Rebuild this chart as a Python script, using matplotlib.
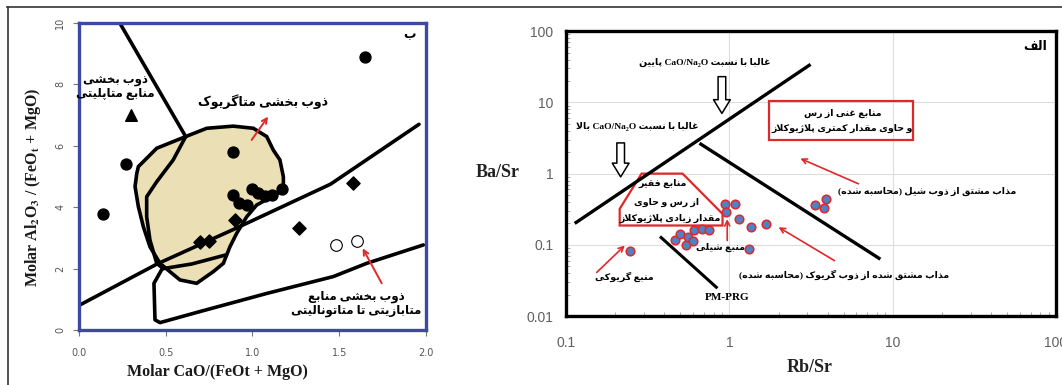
import matplotlib
matplotlib.use('Agg')
import matplotlib.pyplot as plt
from matplotlib.lines import Line2D
from matplotlib.patches import Polygon

plt.rcParams['mathtext.fontset'] = 'stix'

# ---------------- data, left panel (ب) ----------------
circ_x = [0.14, 0.27, 0.89, 1.65, 0.89, 0.92, 0.97, 1.00, 1.03, 1.07, 1.11, 1.17]
circ_y = [3.77, 5.40, 5.81, 8.90, 4.40, 4.15, 4.08, 4.60, 4.45, 4.38, 4.40, 4.60]
tri_x = [0.30]
tri_y = [7.0]
dia_x = [0.70, 0.75, 0.90, 1.27, 1.58]
dia_y = [2.88, 2.90, 3.58, 3.31, 4.78]
open_x = [1.48, 1.60]
open_y = [2.77, 2.91]

blob_x = [0.342, 0.448, 0.615, 0.736, 0.889, 1.005, 1.082, 1.12, 1.158, 1.178, 1.178, 1.11,
          1.024, 0.967, 0.909, 0.870, 0.832, 0.774, 0.678, 0.582, 0.524, 0.467, 0.409, 0.371,
          0.342, 0.323, 0.333]
blob_y = [5.32, 5.92, 6.30, 6.57, 6.64, 6.57, 6.30, 5.86, 5.54, 4.99, 4.56, 4.34,
          4.07, 3.69, 3.15, 2.71, 2.17, 1.90, 1.52, 1.63, 1.90, 2.17, 2.71, 3.36,
          4.02, 4.67, 5.10]
top_x = [0.235, 0.615]
top_y = [10.0, 6.30]
inner_x = [0.615, 0.543, 0.448, 0.39, 0.39, 0.409, 0.448, 0.486]
inner_y = [6.30, 5.54, 4.83, 4.34, 3.69, 2.93, 2.17, 2.0]
sep_x = [0.486, 0.65, 0.85]
sep_y = [2.0, 2.15, 2.45]
mid_x = [0.0, 0.45, 0.9, 1.45, 1.96]
mid_y = [0.8, 2.15, 3.3, 4.75, 6.7]
low_x = [0.486, 0.432, 0.438, 0.467, 0.697, 1.082, 1.466, 1.658, 1.985]
low_y = [2.06, 1.52, 0.33, 0.24, 0.60, 1.19, 1.74, 2.17, 2.77]

# ---------------- data, right panel (الف) ----------------
rs_x = [0.246, 0.462, 0.50, 0.54, 0.56, 0.60, 0.61, 0.675, 0.755, 0.935, 1.09, 0.95,
        1.14, 1.35, 1.67, 1.32, 3.32, 3.89, 3.78]
rs_y = [0.083, 0.117, 0.143, 0.098, 0.131, 0.112, 0.162, 0.167, 0.16, 0.38, 0.38, 0.286,
        0.233, 0.181, 0.198, 0.088, 0.359, 0.447, 0.333]
cao_x = [0.113, 3.14]
cao_y = [0.2, 34.2]
clay_x = [0.656, 8.4]
clay_y = [2.67, 0.063]
pm_x = [0.376, 0.845]
pm_y = [0.131, 0.0246]
box1_x = [1.75, 13.3, 13.3, 1.75]
box1_y = [10.6, 10.6, 2.97, 2.97]
box2_x = [0.29, 0.517, 0.908, 0.908, 0.213, 0.213]
box2_y = [1.0, 1.0, 0.272, 0.187, 0.187, 0.32]

# ---------------- persian shaping (no reshaper installed) ----------------
RJ = {'\u0627': (0xFE8D, 0xFE8E), '\u0622': (0xFE81, 0xFE82), '\u062F': (0xFEA9, 0xFEAA),
      '\u0630': (0xFEAB, 0xFEAC), '\u0631': (0xFEAD, 0xFEAE), '\u0632': (0xFEAF, 0xFEB0),
      '\u0698': (0xFB8A, 0xFB8B), '\u0648': (0xFEED, 0xFEEE)}
DJ = {'\u0628': 0xFE8F, '\u067E': 0xFB56, '\u062A': 0xFE95, '\u062B': 0xFE99, '\u062C': 0xFE9D,
      '\u0686': 0xFB7A, '\u062D': 0xFEA1, '\u062E': 0xFEA5, '\u0633': 0xFEB1, '\u0634': 0xFEB5,
      '\u0635': 0xFEB9, '\u0636': 0xFEBD, '\u0637': 0xFEC1, '\u0638': 0xFEC5, '\u0639': 0xFEC9,
      '\u063A': 0xFECD, '\u0641': 0xFED1, '\u0642': 0xFED5, '\u06A9': 0xFB8E, '\u06AF': 0xFB92,
      '\u0644': 0xFEDD, '\u0645': 0xFEE1, '\u0646': 0xFEE5, '\u0647': 0xFEE9, '\u06CC': 0xFBFC,
      '\u0626': 0xFE89}
MIRROR = {'(': ')', ')': '('}


def shape(s):
    s = s.replace('\u064A', '\u06CC').replace('\u0643', '\u06A9')
    out = []
    i = 0
    while i < len(s):
        c = s[i]
        if c not in RJ and c not in DJ:
            out.append(c)
            i += 1
            continue
        jp = i > 0 and s[i - 1] in DJ
        if c == '\u0644' and i + 1 < len(s) and s[i + 1] == '\u0627':
            out.append(chr(0xFEFC if jp else 0xFEFB))
            i += 2
            continue
        nxt = s[i + 1] if i + 1 < len(s) else ''
        if c in RJ:
            out.append(chr(RJ[c][1] if jp else RJ[c][0]))
        else:
            jn = nxt in RJ or nxt in DJ
            b = DJ[c]
            out.append(chr(b + 3 if (jp and jn) else b + 1 if jp else b + 2 if jn else b))
        i += 1
    return ''.join(out)


def rtl(s):
    lines = []
    for line in s.split('\n'):
        runs = []
        for ch in shape(line):
            ltr = (ch.isascii() and (ch.isalnum() or ch in '/-.')) or ch == '\u2082'
            if runs and runs[-1][0] == ltr:
                runs[-1][1].append(ch)
            else:
                runs.append((ltr, [ch]))
        vis = ''
        for ltr, chars in reversed(runs):
            if ltr:
                vis += ''.join(chars)
            else:
                vis += ''.join(MIRROR.get(c, c) for c in reversed(chars))
        lines.append(vis)
    return '\n'.join(lines)


FA = ['Liberation Serif', 'DejaVu Sans']
RED = '#e0282a'

fig = plt.figure(figsize=(10.62, 3.85), dpi=100)

# ================= left panel =================
ax = fig.add_axes([0.0744, 0.1429, 0.3267, 0.7974])
ax.fill(blob_x, blob_y, facecolor='#eadfb5', edgecolor='black', lw=2.6, zorder=1)
for xs, ys in [(top_x, top_y), (inner_x, inner_y), (sep_x, sep_y), (mid_x, mid_y), (low_x, low_y)]:
    ax.plot(xs, ys, color='black', lw=2.6, solid_capstyle='round', solid_joinstyle='round', zorder=2)

ax.scatter(circ_x, circ_y, s=62, color='black', zorder=4)
ax.scatter(tri_x, tri_y, s=70, marker='^', color='black', zorder=4)
ax.scatter(dia_x, dia_y, s=45, marker='D', color='black', zorder=4)
ax.scatter(open_x, open_y, s=70, facecolor='white', edgecolor='black', lw=0.8, zorder=4)

ax.set_xlim(0, 2.0)
ax.set_ylim(0, 10)
ax.set_xticks([0.0, 0.5, 1.0, 1.5, 2.0])
ax.set_yticks([0, 2, 4, 6, 8, 10])
ax.tick_params(direction='out', length=4, width=0.8, color='#777777', labelcolor='#555555',
               labelsize=7)
ax.tick_params(axis='x', pad=9)
ax.tick_params(axis='y', pad=6)
plt.setp(ax.get_yticklabels(), rotation=90, va='center')
for sp in ax.spines.values():
    sp.set_color('#3d48a5')
    sp.set_linewidth(2.4)

ax.text(-0.133, 0.463, r'Molar Al$_\mathbf{2}$O$_\mathbf{3}$ / (FeO$_\mathbf{t}$ + MgO)',
        transform=ax.transAxes, rotation=90, ha='center', va='center',
        fontsize=11.5, fontweight='bold', family='Liberation Serif', color='#1a1a1a')
ax.text(0.398, -0.137, 'Molar CaO/(FeOt + MgO)', transform=ax.transAxes, ha='center',
        va='center', fontsize=11.5, fontweight='bold', family='Liberation Serif', color='#1a1a1a')

ax.text(1.94, 9.6, rtl('ب'), ha='right', va='center', fontsize=9, fontweight='bold', family=FA)
ax.text(0.21, 7.9, rtl('ذوب بخشی\nمنابع متاپلیتی'), ha='center', va='center', fontsize=8.5,
        fontweight='bold', family=FA, multialignment='center', linespacing=1.1)
ax.text(1.06, 7.43, rtl('ذوب بخشی متاگریوک'), ha='center', va='center', fontsize=9,
        fontweight='bold', family=FA)
ax.text(1.60, 0.85, rtl('ذوب بخشی منابع\nمتابازیتی تا متاتونالیتی'), ha='center', va='center',
        fontsize=8.5, fontweight='bold', family=FA, multialignment='center', linespacing=1.1)
ax.annotate('', xy=(1.09, 6.95), xytext=(0.995, 6.19),
            arrowprops=dict(arrowstyle='->', color=RED, lw=1.4, mutation_scale=9,
                            shrinkA=0, shrinkB=0))
ax.annotate('', xy=(1.635, 2.66), xytext=(1.745, 1.52),
            arrowprops=dict(arrowstyle='->', color=RED, lw=1.4, mutation_scale=9,
                            shrinkA=0, shrinkB=0))

# ================= right panel =================
bx = fig.add_axes([0.533, 0.179, 0.4614, 0.740])
bx.set_xscale('log')
bx.set_yscale('log')
bx.set_xlim(0.1, 100)
bx.set_ylim(0.01, 100)
bx.grid(True, which='major', color='#dddddd', lw=0.8)
bx.set_axisbelow(True)

bx.plot(cao_x, cao_y, color='black', lw=2.4, solid_capstyle='butt')
bx.plot(clay_x, clay_y, color='black', lw=2.4, solid_capstyle='butt')
bx.plot(pm_x, pm_y, color='black', lw=2.2, solid_capstyle='butt')
bx.add_patch(Polygon(list(zip(box1_x, box1_y)), closed=True, fill=False, ec=RED, lw=1.6))
bx.add_patch(Polygon(list(zip(box2_x, box2_y)), closed=True, fill=False, ec=RED, lw=1.6))
bx.scatter(rs_x, rs_y, s=38, facecolor='#4f81c4', edgecolor=RED, lw=1.1, zorder=5)

hollow = dict(arrowstyle='simple,head_length=0.9,head_width=1.1,tail_width=0.5', fc='white',
              ec='black', lw=1.1, mutation_scale=11, shrinkA=0, shrinkB=0)
bx.annotate('', xy=(0.90, 7.0), xytext=(0.90, 23.0), arrowprops=hollow)
bx.annotate('', xy=(0.216, 0.90), xytext=(0.216, 2.7), arrowprops=hollow)

red_arrow = dict(arrowstyle='->', color=RED, lw=1.2, mutation_scale=9, shrinkA=0, shrinkB=0)
bx.annotate('', xy=(0.229, 0.098), xytext=(0.154, 0.041), arrowprops=red_arrow)
bx.annotate('', xy=(2.0, 0.177), xytext=(4.4, 0.06), arrowprops=red_arrow)
bx.annotate('', xy=(2.72, 1.63), xytext=(6.17, 0.72), arrowprops=red_arrow)
bx.annotate('', xy=(0.97, 0.23), xytext=(0.97, 0.115), arrowprops=red_arrow)

fs = 6.8
bx.text(0.71, 36.7, rtl('غالبا با نسبت CaO/Na₂O پایین'), ha='center', va='center', fontsize=fs,
        fontweight='bold', family=FA)
bx.text(0.275, 4.55, rtl('غالبا با نسبت CaO/Na₂O بالا'), ha='center', va='center', fontsize=fs,
        fontweight='bold', family=FA)
bx.text(4.92, 7.03, rtl('منابع غنی از رس'), ha='center', va='center', fontsize=fs,
        fontweight='bold', family=FA)
bx.text(4.92, 4.31, rtl('و حاوی مقدار کمتری پلاژیوکلاز'), ha='center', va='center', fontsize=fs,
        fontweight='bold', family=FA)
bx.text(0.39, 0.72, rtl('منابع فقیر'), ha='center', va='center', fontsize=fs,
        fontweight='bold', family=FA)
bx.text(0.413, 0.40, rtl('از رس و حاوی'), ha='center', va='center', fontsize=fs,
        fontweight='bold', family=FA)
bx.text(0.437, 0.232, rtl('مقدار زیادی پلاژیوکلاز'), ha='center', va='center', fontsize=fs,
        fontweight='bold', family=FA)
bx.text(0.88, 0.092, rtl('منبع شیلی'), ha='center', va='center', fontsize=fs,
        fontweight='bold', family=FA)
bx.text(0.229, 0.0355, rtl('منبع گریوکی'), ha='center', va='center', fontsize=fs,
        fontweight='bold', family=FA)
bx.text(0.97, 0.018, 'PM-PRG', ha='center', va='center', fontsize=8, fontweight='bold',
        family='Liberation Serif')
bx.text(16.2, 0.564, rtl('مذاب مشتق از ذوب شیل (محاسبه شده)'), ha='center', va='center',
        fontsize=fs, fontweight='bold', family=FA)
bx.text(5.06, 0.038, rtl('مذاب مشتق شده از ذوب گریوک (محاسبه شده)'), ha='center', va='center',
        fontsize=fs, fontweight='bold', family=FA)
bx.text(0.982, 0.945, rtl('الف'), transform=bx.transAxes, ha='right', va='center', fontsize=9,
        fontweight='bold', family=FA)

bx.set_xticks([0.1, 1, 10, 100])
bx.set_xticklabels(['0.1', '1', '10', '100'])
bx.set_yticks([0.01, 0.1, 1, 10, 100])
bx.set_yticklabels(['0.01', '0.1', '1', '10', '100'])
bx.tick_params(which='major', length=0, pad=9, labelsize=10, labelcolor='#606060')
bx.tick_params(which='minor', direction='in', length=3, color='#999999', width=0.6)
bx.tick_params(axis='x', which='major', pad=14)
for lab in bx.get_xticklabels() + bx.get_yticklabels():
    lab.set_family('Liberation Sans')
for sp in bx.spines.values():
    sp.set_color('black')
    sp.set_linewidth(2.4)

bx.text(-0.139, 0.505, 'Ba/Sr', transform=bx.transAxes, ha='center', va='center', fontsize=13,
        fontweight='bold', family='Liberation Serif', color='#222222')
bx.text(0.498, -0.182, 'Rb/Sr', transform=bx.transAxes, ha='center', va='center', fontsize=13,
        fontweight='bold', family='Liberation Serif', color='#222222')

# outer frame of the scanned figure
fig.add_artist(Line2D([7 / 1062, 1], [1 - 7 / 385, 1 - 7 / 385], transform=fig.transFigure,
                      color='#333333', lw=1.2))
fig.add_artist(Line2D([8 / 1062, 8 / 1062], [0, 1 - 7 / 385], transform=fig.transFigure,
                      color='#333333', lw=1.2))

fig.savefig('out.png', dpi=100)
